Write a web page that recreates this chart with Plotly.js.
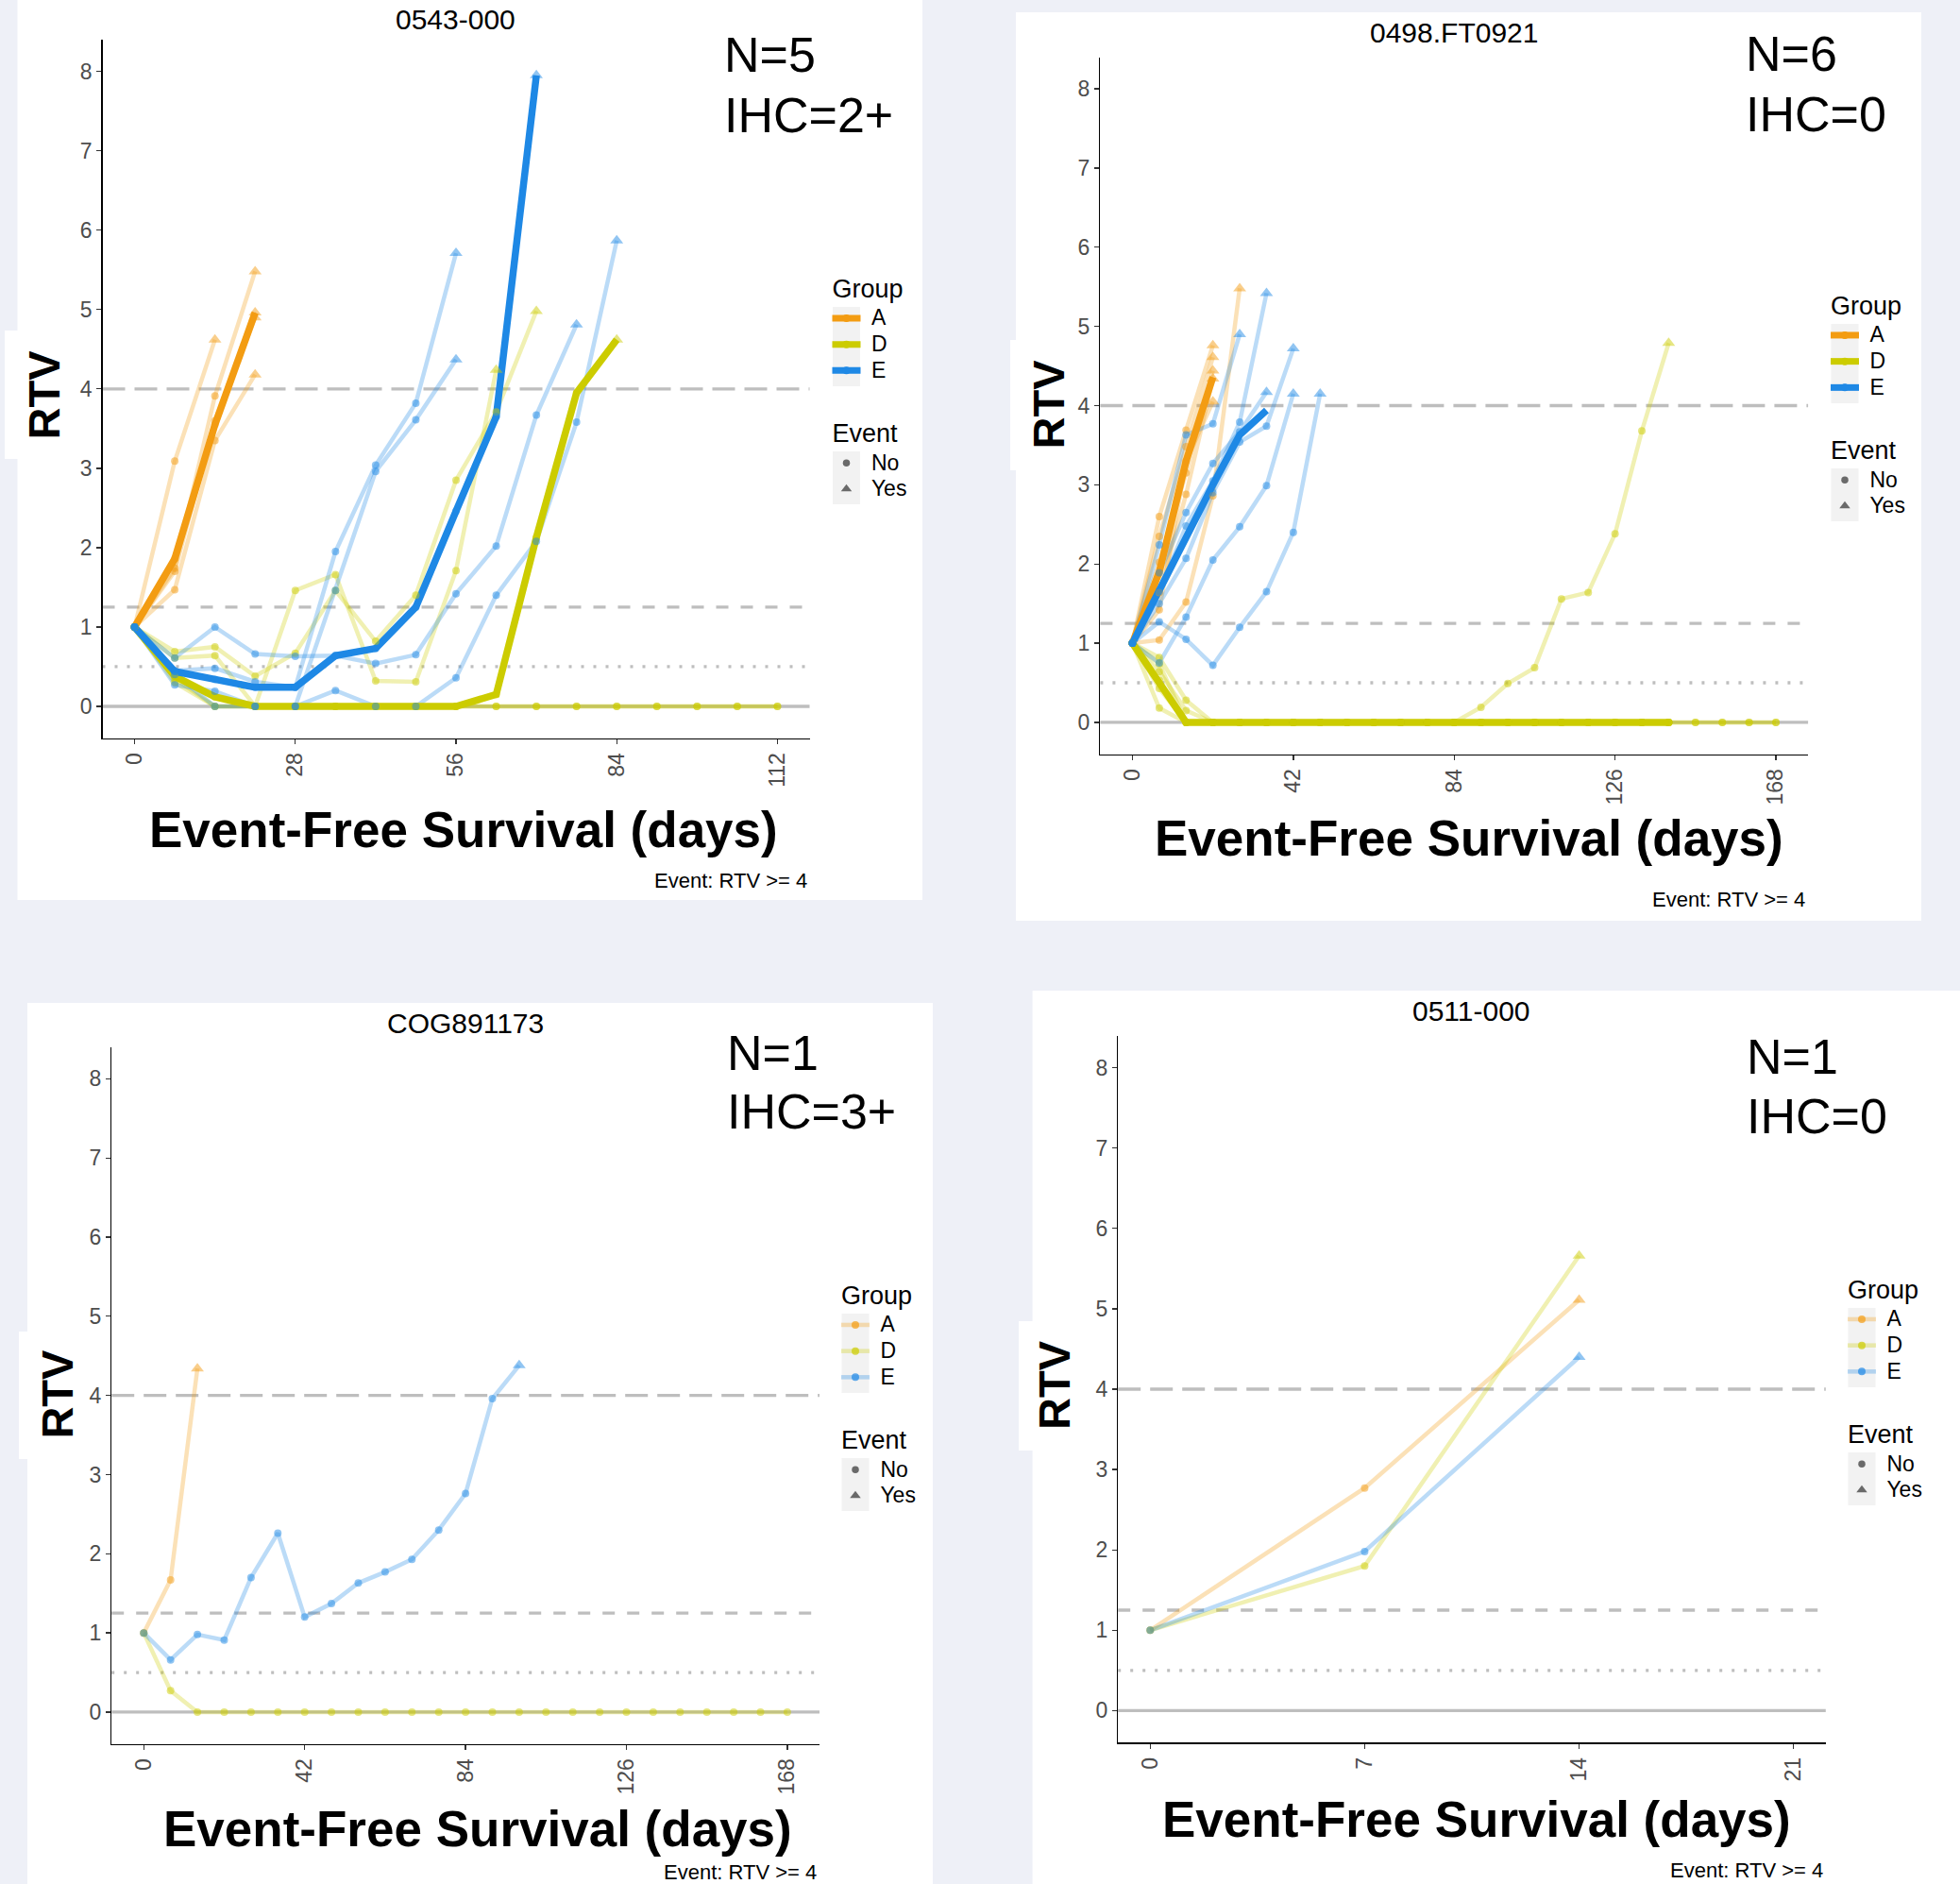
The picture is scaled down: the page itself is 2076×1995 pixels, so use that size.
<!DOCTYPE html>
<html><head><meta charset="utf-8">
<script src="https://cdn.plot.ly/plotly-3.0.1.min.js"></script>
<style>html,body{margin:0;padding:0;background:#EEF0F7;} #chart{width:2076px;height:1995px;}</style>
</head><body><div id="chart"></div>
<script>
// ---------------- DATA ----------------
const weeks = [0,7,14,21,28,35,42,49,56,63,70,77,84,91,98,105,112,119,126,133,140,147,154,161,168];
const days0511 = [0,7,14];
const groupNames = ['A','D','E'];
const eventNames = ['No','Yes'];
const eventLevel = 4;
const refLevels = [4, 1.25, 0.5, 0];

const panelTitles = ['0543-000','0498.FT0921','COG891173','0511-000'];
const nLabels = ['N=5','N=6','N=1','N=1'];
const ihcLabels = ['IHC=2+','IHC=0','IHC=3+','IHC=0'];
const xTicks1 = [0,28,56,84,112];
const xTicks2 = [0,42,84,126,168];
const xTicks3 = [0,42,84,126,168];
const xTicks4 = [0,7,14,21];
const yTicks = [0,1,2,3,4,5,6,7,8];

// Panel 1: 0543-000
const p1_A = [
  [1, 3.09, 4.62],
  [1, 1.74, 3.91, 5.48],
  [1, 1.47, 3.35, 4.18],
  [1, 1.70, 3.60, 4.90],
  [1, 1.86, 3.55, 4.96]
];
const p1_A_median = [1, 1.86, 3.55, 4.96];
const p1_D = [
  [1, 0.61, 0.64, 0, 1.46, 1.66, 0.32, 0.31, 1.71, 4.24],
  [1, 0.69, 0.75, 0.38, 0.67, 1.46, 0.82, 1.40, 2.85, 3.71, 4.98],
  [1, 0.35, 0, 0, 0, 0, 0, 0, 0, 0, 0, 0, 0, 0, 0, 0, 0],
  [1, 0.38, 0.12, 0, 0, 0, 0, 0, 0, 0.15, 2.13, 3.95, 4.62],
  [1, 0.30, 0, 0, 0, 0, 0, 0, 0, 0, 0, 0, 0, 0, 0, 0, 0]
];
const p1_D_median = [1, 0.38, 0.12, 0, 0, 0, 0, 0, 0, 0.15, 2.13, 3.95, 4.62];
const p1_E = [
  [1, 0.45, 0.48, 0.31, 0.24, 1.95, 3.04, 3.82, 5.71],
  [1, 0.27, 0.19, 0, 0, 1.46, 2.96, 3.61, 4.37],
  [1, 0.61, 1.00, 0.66, 0.63, 0.64, 0.54, 0.65, 1.42, 2.02, 3.67, 4.81],
  [1, 0.40, 0, 0, 0, 0.20, 0, 0, 0.36, 1.40, 2.08, 3.58, 5.87],
  [1, 0.44, 0.34, 0.24, 0.24, 0.64, 0.73, 1.25, 2.46, 3.65, 7.95]
];
const p1_E_median = [1, 0.44, 0.34, 0.24, 0.24, 0.64, 0.73, 1.25, 2.46, 3.65, 7.95];

// Panel 2: 0498.FT0921
const p2_A = [
  [1, 2.60, 3.69, 4.76],
  [1, 2.35, 3.48, 4.61],
  [1, 2.02, 3.15, 4.44],
  [1, 1.64, 2.88, 4.34],
  [1, 1.42, 3.30, 4.05],
  [1, 1.04, 1.52, 2.86, 5.48]
];
const p2_A_median = [1, 1.90, 3.30, 4.36];
const p2_D = [
  [1, 0.82, 0.28, 0, 0, 0, 0, 0, 0, 0, 0, 0, 0, 0, 0, 0, 0, 0, 0, 0, 0, 0, 0, 0, 0],
  [1, 0.64, 0.15, 0, 0, 0, 0, 0, 0, 0, 0, 0, 0, 0.19, 0.49, 0.69, 1.56, 1.64, 2.38, 3.68, 4.79],
  [1, 0.74, 0, 0, 0, 0, 0, 0, 0, 0, 0, 0, 0, 0, 0, 0, 0, 0, 0, 0, 0],
  [1, 0.53, 0, 0, 0, 0, 0, 0, 0, 0, 0, 0, 0, 0, 0, 0, 0, 0, 0, 0, 0],
  [1, 0.43, 0, 0, 0, 0, 0, 0, 0, 0, 0, 0, 0, 0, 0, 0, 0, 0, 0, 0, 0, 0, 0, 0, 0],
  [1, 0.18, 0, 0, 0, 0, 0, 0, 0, 0, 0, 0, 0, 0, 0, 0, 0, 0, 0, 0, 0]
];
const p2_D_median = [1, 0.49, 0, 0, 0, 0, 0, 0, 0, 0, 0, 0, 0, 0, 0, 0, 0, 0, 0, 0, 0];
const p2_E = [
  [1, 2.24, 3.63, 3.77, 4.90],
  [1, 1.89, 2.65, 3.27, 3.67, 4.17],
  [1, 1.65, 2.48, 3.05, 3.79, 5.42],
  [1, 1.50, 2.07, 2.90, 3.54, 3.74, 4.72],
  [1, 0.75, 1.33, 2.05, 2.47, 2.99, 4.15],
  [1, 1.27, 1.05, 0.72, 1.20, 1.65, 2.40, 4.15]
];
const p2_E_median = [1, 1.68, 2.31, 3.00, 3.63, 3.94];

// Panel 3: COG891173
const p3_A = [[1, 1.67, 4.34]];
const p3_D = [[1, 0.27, 0, 0, 0, 0, 0, 0, 0, 0, 0, 0, 0, 0, 0, 0, 0, 0, 0, 0, 0, 0, 0, 0, 0]];
const p3_E = [[1, 0.66, 0.98, 0.91, 1.70, 2.26, 1.20, 1.37, 1.63, 1.77, 1.93, 2.30, 2.76, 3.96, 4.38]];

// Panel 4: 0511-000
const p4_A = [[1, 2.77, 5.11]];
const p4_D = [[1, 1.80, 5.66]];
const p4_E = [[1, 1.98, 4.40]];

// ---------------- STYLE / LAYOUT ----------------
const W = 2076, H = 1995;
const FONT = '"Liberation Sans", Arial, Helvetica, sans-serif';
const groupColors = {A: [243,156,18], D: [204,204,0], E: [30,136,229]};
const rgba = (c, a) => `rgba(${c[0]},${c[1]},${c[2]},${a})`;
const px = x => x / W;
const py = y => 1 - y / H;
const NBSP = '\u00A0';

const panels = [
  {data: {A: p1_A, D: p1_D, E: p1_E}, med: {A: p1_A_median, D: p1_D_median, E: p1_E_median}, days: weeks,
   l: 108.5, r: 857.5, t: 42, b: 781.6, xr: [-5.6, 117.6], xt: xTicks1, box: [18.5, 0, 977, 953],
   title: [482, 20], nPos: [765, 58, 122], rtv: [45.5, 418], rtvBox: [5, 350, 70, 486],
   xtitle: [491, 878], caption: [857, 933], legX: 896.5, legY: 298},
  {data: {A: p2_A, D: p2_D, E: p2_E}, med: {A: p2_A_median, D: p2_D_median, E: p2_E_median}, days: weeks,
   l: 1165.4, r: 1915.1, t: 60.5, b: 798.5, xr: [-8.4, 176.4], xt: xTicks2, box: [1076, 13, 2035, 975],
   title: [1540, 34], nPos: [1847, 57, 120.5], rtv: [1109.5, 428], rtvBox: [1070, 360, 1140, 498],
   xtitle: [1556, 887], caption: [1914, 953], legX: 1954, legY: 316},
  {data: {A: p3_A, D: p3_D, E: p3_E}, med: null, days: weeks,
   l: 118.2, r: 868, t: 1108.8, b: 1846.5, xr: [-8.4, 176.4], xt: xTicks3, box: [29, 1062, 988, 1995],
   title: [492.5, 1083], nPos: [768, 1115, 1177], rtv: [59.6, 1476], rtvBox: [20, 1410, 90, 1545],
   xtitle: [506, 1936], caption: [867, 1982], legX: 906, legY: 1364},
  {data: {A: p4_A, D: p4_D, E: p4_E}, med: null, days: days0511,
   l: 1184.2, r: 1933.8, t: 1096.6, b: 1845.4, xr: [-1.05, 22.05], xt: xTicks4, box: [1093.6, 1049, 2076, 1995],
   title: [1558, 1070], nPos: [1848, 1119, 1182], rtv: [1116, 1467], rtvBox: [1079, 1399, 1150, 1536],
   xtitle: [1564, 1926], caption: [1933, 1980], legX: 1972, legY: 1358}
];

const traces = [];
const layout = {
  width: W, height: H, margin: {l: 0, r: 0, t: 0, b: 0},
  paper_bgcolor: '#EEF0F7', plot_bgcolor: '#FFFFFF',
  font: {family: FONT, color: '#000'},
  showlegend: true, shapes: [], annotations: []
};

panels.forEach((p, i) => {
  const k = i + 1;
  const xa = k === 1 ? 'x' : 'x' + k;
  const ya = k === 1 ? 'y' : 'y' + k;
  const xKey = k === 1 ? 'xaxis' : 'xaxis' + k;
  const yKey = k === 1 ? 'yaxis' : 'yaxis' + k;
  const legKey = k === 1 ? 'legend' : 'legend' + k;

  layout[xKey] = {
    domain: [px(p.l), px(p.r)], range: p.xr, anchor: ya, tickmode: 'array', tickvals: p.xt,
    ticktext: p.xt.map(String), tickangle: -90, showline: true, linecolor: '#000', linewidth: 1.4,
    ticks: 'outside', ticklen: 5, tickwidth: 1.3, tickcolor: '#333', showgrid: false, zeroline: false,
    tickfont: {size: 23, color: '#4D4D4D', family: FONT}, fixedrange: true
  };
  layout[yKey] = {
    domain: [py(p.b), py(p.t)], range: [-0.4, 8.4], anchor: xa, tickmode: 'array', tickvals: yTicks,
    showline: true, linecolor: '#000', linewidth: 1.4, ticks: 'outside', ticklen: 5, tickwidth: 1.3,
    tickcolor: '#333', showgrid: false, zeroline: false,
    tickfont: {size: 23, color: '#4D4D4D', family: FONT}, fixedrange: true
  };

  // panel white box and label backing
  layout.shapes.push({type: 'rect', xref: 'paper', yref: 'paper', x0: px(p.box[0]), x1: px(p.box[2]),
    y0: py(p.box[3]), y1: py(p.box[1]), fillcolor: '#FFFFFF', line: {width: 0}, layer: 'below'});
  layout.shapes.push({type: 'rect', xref: 'paper', yref: 'paper', x0: px(p.rtvBox[0]), x1: px(p.rtvBox[2]),
    y0: py(p.rtvBox[3]), y1: py(p.rtvBox[1]), fillcolor: '#FFFFFF', line: {width: 0}, layer: 'below'});

  // reference lines
  const refStyles = [
    {dash: '24px,10px', width: 3.3},
    {dash: '13px,13px', width: 3.3},
    {dash: '3px,10px', width: 3.3},
    {dash: 'solid', width: 3.3}
  ];
  refLevels.forEach((lv, j) => {
    layout.shapes.push({type: 'line', xref: xa + ' domain', yref: ya, x0: 0, x1: 1, y0: lv, y1: lv,
      line: {color: '#BEBEBE', width: refStyles[j].width, dash: refStyles[j].dash}, layer: 'below'});
  });

  // thin lines
  groupNames.forEach(g => {
    p.data[g].forEach(m => {
      traces.push({type: 'scatter', mode: 'lines', x: p.days.slice(0, m.length), y: m, xaxis: xa, yaxis: ya,
        line: {color: rgba(groupColors[g], 0.3), width: 4.5}, showlegend: false, hoverinfo: 'skip'});
    });
  });
  // thick median lines
  if (p.med) {
    groupNames.forEach(g => {
      const m = p.med[g];
      traces.push({type: 'scatter', mode: 'lines', x: p.days.slice(0, m.length), y: m, xaxis: xa, yaxis: ya,
        line: {color: rgba(groupColors[g], 1), width: 7.5}, showlegend: false, hoverinfo: 'skip'});
    });
  }
  // points
  groupNames.forEach(g => {
    p.data[g].forEach(m => {
      traces.push({type: 'scatter', mode: 'markers', x: p.days.slice(0, m.length), y: m, xaxis: xa, yaxis: ya,
        marker: {color: rgba(groupColors[g], 0.7), size: m.map(v => v >= eventLevel ? 12 : 8),
          symbol: m.map(v => v >= eventLevel ? 'triangle-up' : 'circle'), line: {width: 0}},
        showlegend: false, hoverinfo: 'skip'});
    });
  });

  // legend entries
  const label = t => `<span style="font-size:23px">${NBSP}${t}</span>`;
  groupNames.forEach(g => {
    const strong = !!p.med;
    traces.push({type: 'scatter', mode: 'lines+markers', x: [null], y: [null], xaxis: xa, yaxis: ya,
      name: label(g), legend: legKey, legendgroup: 'grp' + k, legendgrouptitle: {text: 'Group', font: {size: 27}},
      line: {color: rgba(groupColors[g], strong ? 1 : 0.3), width: strong ? 7 : 4.5},
      marker: {color: rgba(groupColors[g], strong ? 1 : 0.7), size: 8}, hoverinfo: 'skip'});
  });
  eventNames.forEach((e, j) => {
    traces.push({type: 'scatter', mode: 'markers', x: [null], y: [null], xaxis: xa, yaxis: ya,
      name: label(e), legend: legKey, legendgroup: 'evt' + k, legendgrouptitle: {text: 'Event', font: {size: 27}},
      marker: {color: 'rgba(60,60,60,0.75)', size: j ? 10 : 7.5, symbol: j ? 'triangle-up' : 'circle'},
      hoverinfo: 'skip'});
  });
  layout[legKey] = {
    x: px(p.legX - 20), y: py(p.legY - 18), xanchor: 'left', yanchor: 'top',
    bgcolor: 'rgba(0,0,0,0)', font: {size: 19, color: '#000', family: FONT},
    tracegroupgap: 32, itemwidth: 30, traceorder: 'grouped', itemsizing: 'trace'
  };
  // legend key backgrounds
  layout.shapes.push({type: 'rect', xref: 'paper', yref: 'paper', x0: px(p.legX - 14.5), x1: px(p.legX + 14.5),
    y0: py(p.legY + 111), y1: py(p.legY + 27), fillcolor: '#F2F2F2', line: {width: 0}, layer: 'below'});
  layout.shapes.push({type: 'rect', xref: 'paper', yref: 'paper', x0: px(p.legX - 14.5), x1: px(p.legX + 14.5),
    y0: py(p.legY + 236), y1: py(p.legY + 180), fillcolor: '#F2F2F2', line: {width: 0}, layer: 'below'});

  // text annotations
  const ann = layout.annotations;
  ann.push({text: panelTitles[i], xref: 'paper', yref: 'paper', x: px(p.title[0]), y: py(p.title[1]),
    xanchor: 'center', yanchor: 'middle', showarrow: false, font: {size: 30, color: '#000'}});
  ann.push({text: nLabels[i], xref: 'paper', yref: 'paper', x: px(p.nPos[0]), y: py(p.nPos[1]),
    xanchor: 'left', yanchor: 'middle', showarrow: false, font: {size: 52, color: '#000'}});
  ann.push({text: ihcLabels[i], xref: 'paper', yref: 'paper', x: px(p.nPos[0]), y: py(p.nPos[2]),
    xanchor: 'left', yanchor: 'middle', showarrow: false, font: {size: 52, color: '#000'}});
  ann.push({text: '<b>RTV</b>', xref: 'paper', yref: 'paper', x: px(p.rtv[0]), y: py(p.rtv[1]),
    xanchor: 'center', yanchor: 'middle', textangle: -90, showarrow: false, font: {size: 47, color: '#000'}});
  ann.push({text: '<b>Event-Free Survival (days)</b>', xref: 'paper', yref: 'paper', x: px(p.xtitle[0]), y: py(p.xtitle[1]),
    xanchor: 'center', yanchor: 'middle', showarrow: false, font: {size: 53, color: '#000'}});
  ann.push({text: 'Event: RTV >= 4', xref: 'paper', yref: 'paper', x: px(p.caption[0]), y: py(p.caption[1]),
    xanchor: 'right', yanchor: 'middle', showarrow: false, font: {size: 22, color: '#000'}});
});

Plotly.newPlot('chart', traces, layout, {staticPlot: true, displayModeBar: false});
</script></body></html>
